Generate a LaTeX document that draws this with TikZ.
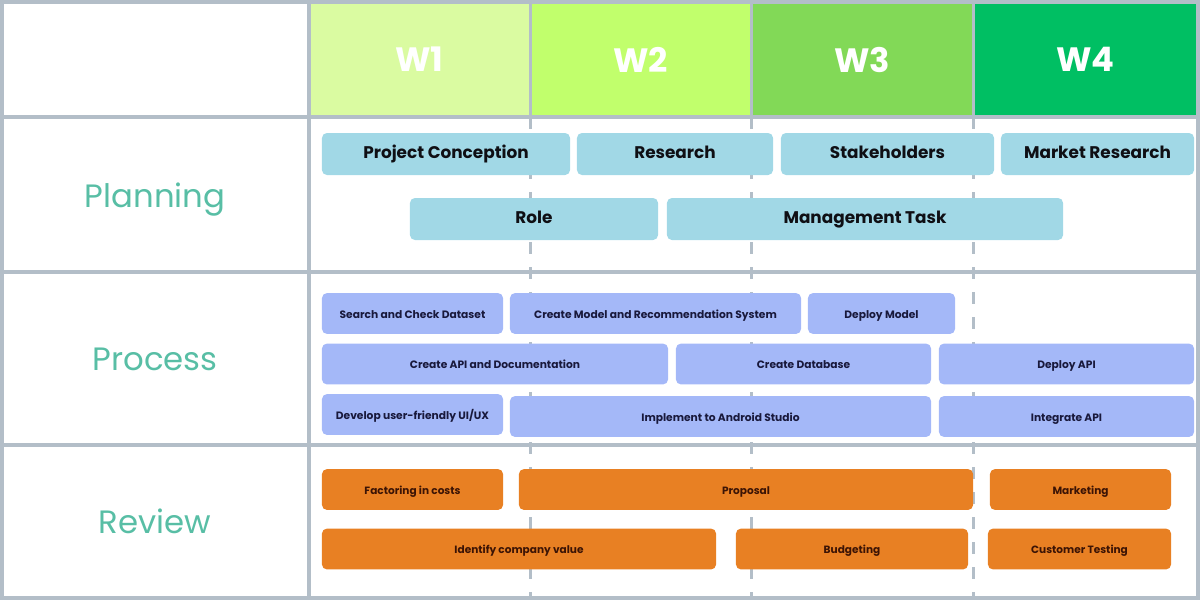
\documentclass[tikz,border=0pt]{standalone}
\usepackage{fontspec}
\setmainfont{Poppins}
\definecolor{gris}{RGB}{179,190,200}
\definecolor{vert1}{RGB}{218,251,161}
\definecolor{vert2}{RGB}{193,255,108}
\definecolor{vert3}{RGB}{130,217,87}
\definecolor{vert4}{RGB}{0,191,99}
\definecolor{turquoise}{RGB}{88,190,165}
\definecolor{planbleu}{RGB}{161,216,230}
\definecolor{procbleu}{RGB}{164,184,248}
\definecolor{orangeR}{RGB}{232,128,35}
\definecolor{encre}{RGB}{15,15,20}
\definecolor{encrebleu}{RGB}{25,25,60}
\definecolor{encrebrun}{RGB}{60,20,5}

\begin{document}
\begin{tikzpicture}[x=0.025cm,y=-0.025cm]
\tikzstyle{grille}=[draw=gris,line width=0.1cm]
\tikzstyle{pointille}=[draw=gris,line width=0.075cm,dash pattern=on 0.3cm off 0.325cm]
\tikzset{semaine/.style={fill=#1,minimum height=2.875cm,minimum width=5.525cm,inner sep=0pt,
  text=white,font=\bfseries\fontsize{24}{28}\selectfont},
etiquette/.style={anchor=base,text=turquoise,font=\fontsize{23}{26}\selectfont},
tache/.style={rounded corners=3.5pt,inner sep=0pt,fill=#1,text height=0.66em,text depth=0pt},
plan/.style={tache=planbleu,minimum height=1.05cm,text=encre,font=\bfseries\fontsize{12}{14}\selectfont},
proc/.style={tache=procbleu,minimum height=1.02cm,text=encrebleu,font=\bfseries\fontsize{7.6}{9}\selectfont},
revue/.style={tache=orangeR,minimum height=1.02cm,text=encrebrun,font=\bfseries\fontsize{7.5}{9}\selectfont}}
\useasboundingbox (0,0) rectangle (1200,600);

% en-tete des semaines
\node[semaine=vert1] (W1) at (419.5,59.5){W1};
\node[semaine=vert2] (W2) at (640.5,59.5){W2};
\node[semaine=vert3,minimum width=5.55cm] (W3) at (862,59.5){W3};
\node[semaine=vert4,minimum width=5.625cm] (W4) at (1085.5,59.5){W4};

% lignes en pointille
\draw[pointille] (530.5,117) -- (530.5,598);
\draw[pointille] (751.5,117) -- (751.5,598);
\draw[pointille] (973,117) -- (973,598);

% etiquettes
\node[etiquette] (planning) at (155,207){Planning};
\node[etiquette] (process) at (155,370){Process};
\node[etiquette] (review) at (155,533){Review};

% Planning
\node[plan,minimum width=6.2cm] (conception) at (446,154){Project Conception};
\node[plan,minimum width=4.9cm] (research) at (675,154){Research};
\node[plan,minimum width=5.325cm] (stakeholders) at (887.5,154){Stakeholders};
\node[plan,minimum width=4.825cm] (market) at (1097.5,154){Market Research};
\node[plan,minimum width=6.2cm] (role) at (534,219){Role};
\node[plan,minimum width=9.9cm] (management) at (865,219){Management Task};

% Process
\node[proc,minimum width=4.525cm] (dataset) at (412.5,313.5){Search and Check Dataset};
\node[proc,minimum width=7.275cm] (model) at (655.5,313.5){Create Model and Recommendation System};
\node[proc,minimum width=3.675cm] (deploymodel) at (881.5,313.5){Deploy Model};
\node[proc,minimum width=8.65cm] (api) at (495,364){Create API and Documentation};
\node[proc,minimum width=6.375cm] (database) at (803.5,364){Create Database};
\node[proc,minimum width=6.375cm] (deployapi) at (1066.5,364){Deploy API};
\node[proc,minimum width=4.525cm] (uiux) at (412.5,414.5){Develop user-friendly UI/UX};
\node[proc,minimum width=10.525cm] (android) at (720.5,416.5){Implement to Android Studio};
\node[proc,minimum width=6.375cm] (integrate) at (1066.5,416.5){Integrate API};

% Review
\node[revue,minimum width=4.525cm] (costs) at (412.5,489.5){Factoring in costs};
\node[revue,minimum width=11.35cm] (proposal) at (746,489.5){Proposal};
\node[revue,minimum width=4.525cm] (marketing) at (1080.5,489.5){Marketing};
\node[revue,minimum width=9.85cm] (value) at (519,549){Identify company value};
\node[revue,minimum width=5.8cm] (budgeting) at (852,549){Budgeting};
\node[revue,minimum width=4.575cm] (testing) at (1079.5,549){Customer Testing};

% grille
\draw[grille,line width=0.075cm] (530.5,0) -- (530.5,117);
\draw[grille,line width=0.075cm] (751.5,0) -- (751.5,117);
\draw[grille,line width=0.075cm] (973,0) -- (973,117);
\draw[grille] (0,117) -- (1200,117);
\draw[grille] (0,272) -- (1200,272);
\draw[grille] (0,445) -- (1200,445);
\draw[grille] (309,0) -- (309,600);
\draw[grille] (2,2) rectangle (1198,598);
\end{tikzpicture}
\end{document}
